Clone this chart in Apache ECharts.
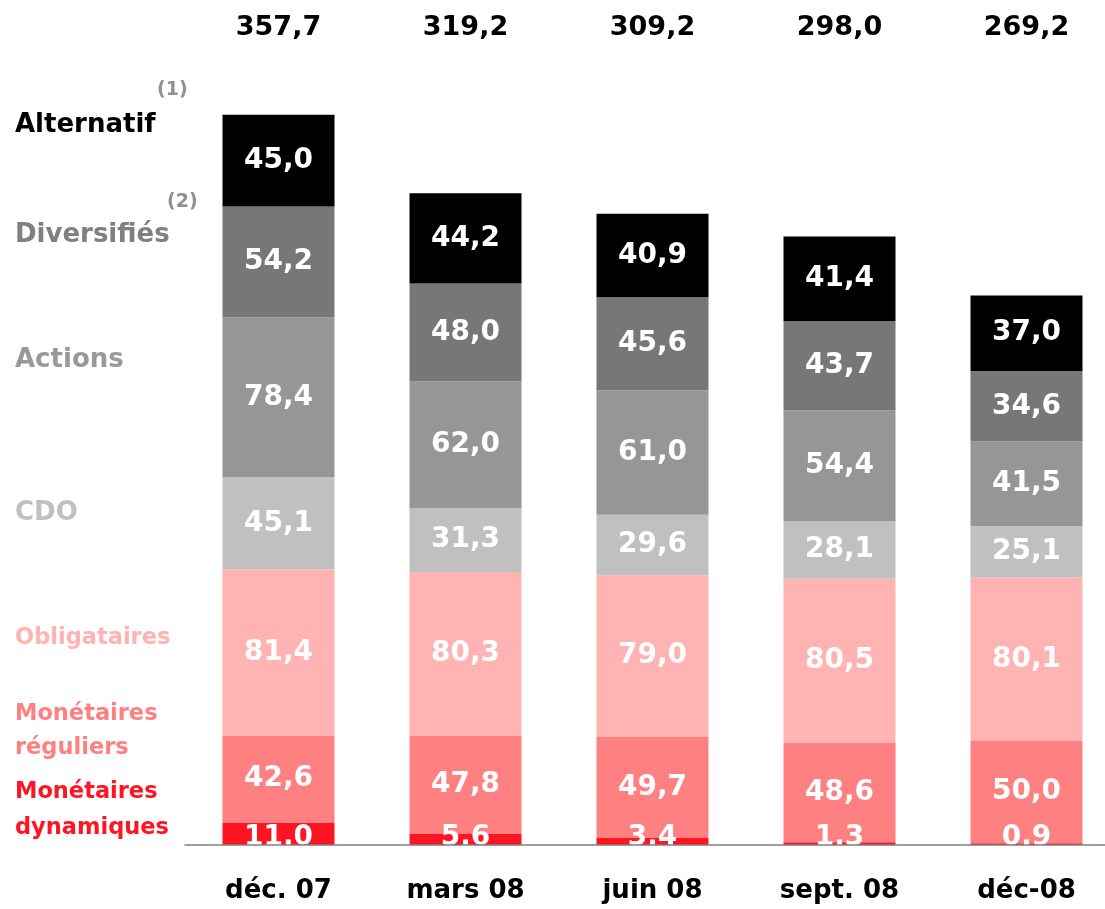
<!DOCTYPE html>
<html>
<head>
<meta charset="utf-8">
<script src="https://cdn.jsdelivr.net/npm/echarts@6/dist/echarts.min.js"></script>
<style>
  html, body { margin: 0; padding: 0; background: #fff; overflow: hidden; }
  #chart { width: 1120px; height: 909px; }
</style>
</head>
<body>
<div id="chart"></div>
<script>
// periods and totals
const periods = ['déc. 07', 'mars 08', 'juin 08', 'sept. 08', 'déc-08'];
const totals = [357.7, 319.2, 309.2, 298.0, 269.2];

// segments, bottom to top
const monetairesDynamiques = [11.0, 5.6, 3.4, 1.3, 0.9];
const monetairesReguliers = [42.6, 47.8, 49.7, 48.6, 50.0];
const obligataires = [81.4, 80.3, 79.0, 80.5, 80.1];
const cdo = [45.1, 31.3, 29.6, 28.1, 25.1];
const actions = [78.4, 62.0, 61.0, 54.4, 41.5];
const diversifies = [54.2, 48.0, 45.6, 43.7, 34.6];
const alternatif = [45.0, 44.2, 40.9, 41.4, 37.0];

const FONT = 'DejaVu Sans';
const fmt = v => v.toFixed(1).replace('.', ',');

const seriesDefs = [
  { name: 'Monétaires dynamiques', data: monetairesDynamiques, color: '#ff1422' },
  { name: 'Monétaires réguliers', data: monetairesReguliers, color: '#ff8080' },
  { name: 'Obligataires', data: obligataires, color: '#ffb3b3' },
  { name: 'CDO', data: cdo, color: '#c0c0c0' },
  { name: 'Actions', data: actions, color: '#969696' },
  { name: 'Diversifiés', data: diversifies, color: '#777777' },
  { name: 'Alternatif', data: alternatif, color: '#000000' }
];

const series = seriesDefs.map((s, i) => ({
  name: s.name,
  type: 'bar',
  stack: 'total',
  barWidth: 112,
  data: s.data,
  itemStyle: { color: s.color },
  label: {
    show: true,
    position: i === 0 ? 'insideBottom' : 'inside',
    offset: i === 0 ? [0, 12] : [0, 0],
    color: '#fff',
    fontFamily: FONT,
    fontWeight: 'bold',
    fontSize: 28,
    formatter: p => fmt(p.value)
  }
}));

// left side captions (top of text box)
const captions = [
  { text: 'Alternatif', top: 112, color: '#000000', size: 26 },
  { text: 'Diversifiés', top: 222, color: '#808080', size: 26 },
  { text: 'Actions', top: 347, color: '#999999', size: 26 },
  { text: 'CDO', top: 500, color: '#c0c0c0', size: 26 },
  { text: 'Obligataires', top: 627, color: '#ffb3b3', size: 22.5 },
  { text: 'Monétaires', top: 703, color: '#ff8080', size: 22.5 },
  { text: 'réguliers', top: 737, color: '#ff8080', size: 22.5 },
  { text: 'Monétaires', top: 781, color: '#ff1422', size: 22.5 },
  { text: 'dynamiques', top: 817, color: '#ff1422', size: 22.5 }
];
const graphics = captions.map(c => ({
  type: 'text', left: 15, top: c.top, z: 100,
  style: { text: c.text, fill: c.color, font: `bold ${c.size}px "${FONT}"` }
}));
graphics.push(
  { type: 'text', left: 157, top: 81, style: { text: '(1)', fill: '#909090', font: `bold 19px "${FONT}"` } },
  { type: 'text', left: 167, top: 193, style: { text: '(2)', fill: '#909090', font: `bold 19px "${FONT}"` } }
);

const chart = echarts.init(document.getElementById('chart'), null, { renderer: 'canvas' });
chart.setOption({
  backgroundColor: '#ffffff',
  animation: false,
  grid: { left: 185, right: 0, top: 110, bottom: 64 },
  xAxis: [
    {
      type: 'category',
      data: periods,
      z: 10,
      axisLine: { lineStyle: { color: '#808080', width: 1.5 } },
      axisTick: { show: false },
      axisLabel: {
        color: '#000', fontFamily: FONT, fontWeight: 'bold', fontSize: 26, margin: 33
      }
    },
    {
      type: 'category',
      position: 'top',
      data: totals.map(fmt),
      axisLine: { show: false },
      axisTick: { show: false },
      axisLabel: {
        color: '#000', fontFamily: FONT, fontWeight: 'bold', fontSize: 27, margin: 69
      }
    }
  ],
  yAxis: { type: 'value', min: 0, max: 360, show: false },
  series: series,
  graphic: graphics
});
</script>
</body>
</html>
